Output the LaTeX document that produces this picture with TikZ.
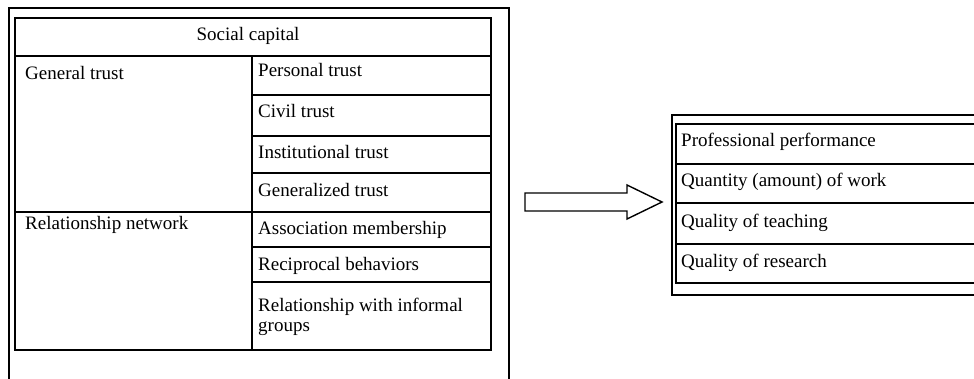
\documentclass[tikz,border=0pt]{standalone}
\usepackage{fontspec}
\setmainfont{Liberation Serif}
\tikzset{
  grid/.style={line width=1.6pt, black},
  frame/.style={line width=1.6pt, black},
  txt/.style={anchor=base west, inner sep=0pt, font=\fontsize{19}{20}\selectfont},
  bigarrow/.style={line width=1.4pt, black, fill=white}
}
\begin{document}
\begin{tikzpicture}[x=1pt,y=-1pt]
\useasboundingbox (0,0) rectangle (974,379);
\begin{scope}
\clip (0,0) rectangle (974,379);
% outer frames
\draw[frame] (9,8) rectangle (509,400);
\draw[frame] (672,115) rectangle (990,295);
% left table
\draw[grid] (15,18) rectangle (491,350);
\draw[grid] (15,56) -- (491,56);
\draw[grid] (252,56) -- (252,350);
\draw[grid] (15,212) -- (491,212);
\draw[grid] (252,95) -- (491,95);
\draw[grid] (252,136) -- (491,136);
\draw[grid] (252,173) -- (491,173);
\draw[grid] (252,247) -- (491,247);
\draw[grid] (252,282) -- (491,282);
% right table
\draw[grid] (676,124) rectangle (990,283);
\draw[grid] (676,164) -- (990,164);
\draw[grid] (676,203) -- (990,203);
\draw[grid] (676,244) -- (990,244);
\end{scope}
% texts
\node[txt, anchor=base] (sc) at (248,41) {Social capital};
\node[txt] (gt) at (25,80) {General trust};
\node[txt] (pt) at (258,77) {Personal trust};
\node[txt] (ct) at (258,118) {Civil trust};
\node[txt] (it) at (258,159) {Institutional trust};
\node[txt] (gzt) at (258,197) {Generalized trust};
\node[txt] (rn) at (25,230) {Relationship network};
\node[txt] (am) at (258,235) {Association membership};
\node[txt] (rb) at (258,270) {Reciprocal behaviors};
\node[txt, anchor=north west, align=left] (rig) at (258,298) {Relationship with informal\\groups};
\node[txt] (pp) at (681,147) {Professional performance};
\node[txt] (qw) at (681,187) {Quantity (amount) of work};
\node[txt] (qt) at (681,228) {Quality of teaching};
\node[txt] (qr) at (681,268) {Quality of research};
% block arrow
\coordinate (a0) at (525,202);
\coordinate (a1) at (662,202);
\draw[bigarrow] (525,193) -- (627,193) -- (627,185) -- (a1) -- (627,219) -- (627,211) -- (525,211) -- cycle;
\end{tikzpicture}
\end{document}
